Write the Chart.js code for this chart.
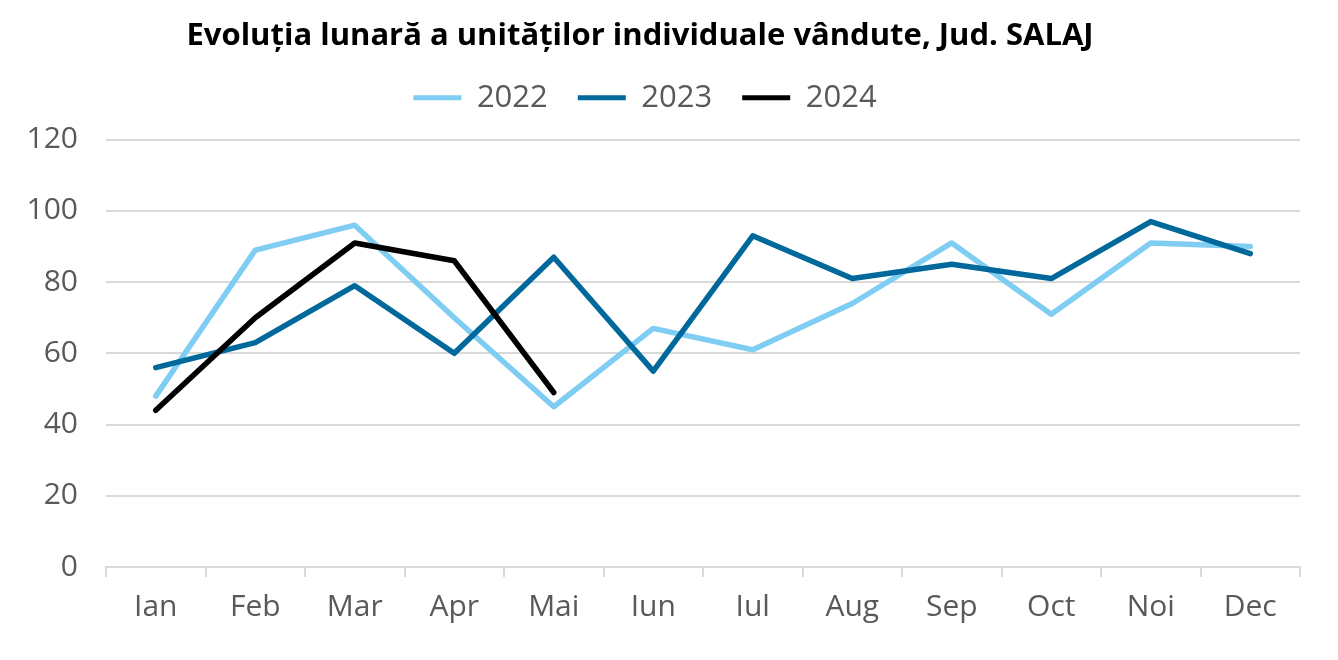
<!DOCTYPE html>
<html>
<head>
<meta charset="utf-8">
<script src="https://cdn.jsdelivr.net/npm/chart.js@4/dist/chart.umd.min.js"></script>
<style>
html,body{margin:0;padding:0;background:#fff;}
#wrap{width:1338px;height:660px;}
</style>
</head>
<body>
<div id="wrap"><canvas id="c" width="1338" height="660"></canvas></div>
<script>
const chartTitle = 'Evoluția lunară a unităților individuale vândute, Jud. SALAJ';
const months = ['Ian','Feb','Mar','Apr','Mai','Iun','Iul','Aug','Sep','Oct','Noi','Dec'];
const seriesNames = ['2022','2023','2024'];
const values2022 = [48, 89, 96, 70, 45, 67, 61, 74, 91, 71, 91, 90];
const values2023 = [56, 63, 79, 60, 87, 55, 93, 81, 85, 81, 97, 88];
const values2024 = [44, 70, 91, 86, 49];
const yTicks = [0, 20, 40, 60, 80, 100, 120];

const colors = ['#7FCDF2', '#00689A', '#000000'];
const txt = '#595959';
const FONT = "'Open Sans', 'DejaVu Sans', sans-serif";

const shiftPlugin = {
  id: 'shift',
  afterLayout(chart) {
    if (chart.titleBlock) { chart.titleBlock.left -= 10; chart.titleBlock.right -= 10; }
    if (chart.legend) {
      chart.legend.left -= 5; chart.legend.right -= 5;
      chart.legend.top -= 16.5; chart.legend.bottom -= 16.5;
    }
  }
};

new Chart(document.getElementById('c'), {
  type: 'line',
  data: {
    labels: months,
    datasets: [values2022, values2023, values2024].map((v, i) => ({
      label: seriesNames[i],
      data: v,
      borderColor: colors[i],
      backgroundColor: colors[i],
      borderWidth: 5.5,
      pointRadius: 0,
      pointHoverRadius: 0,
      tension: 0,
      borderCapStyle: 'round',
      borderJoinStyle: 'round',
      fill: false,
      order: 3 - i
    }))
  },
  options: {
    responsive: false,
    animation: false,
    devicePixelRatio: 1,
    layout: { padding: { left: 0, right: 38, top: 0, bottom: 0 } },
    plugins: {
      tooltip: { enabled: false },
      title: {
        display: true,
        text: chartTitle,
        color: '#000000',
        font: { family: FONT, size: 31, weight: 'bold' },
        padding: { top: 18, bottom: 13.5 }
      },
      legend: {
        display: true,
        position: 'top',
        labels: {
          sort: (a, b) => a.datasetIndex - b.datasetIndex,
          color: txt,
          font: { family: FONT, size: 31 },
          boxWidth: 48,
          boxHeight: 5,
          useBorderRadius: true,
          borderRadius: 2.5,
          padding: 30,
          generateLabels(chart) {
            return chart.data.datasets.map((d, i) => ({
              text: d.label,
              fillStyle: d.borderColor,
              strokeStyle: d.borderColor,
              lineWidth: 0,
              fontColor: txt,
              datasetIndex: i,
              hidden: false
            }));
          }
        }
      }
    },
    scales: {
      x: {
        type: 'category',
        offset: true,
        grid: { display: true, drawOnChartArea: false, drawTicks: true, tickLength: 10, color: '#D9D9D9', lineWidth: 2, offset: true },
        border: { display: true, color: '#D9D9D9', width: 2 },
        ticks: { color: txt, font: { family: FONT, size: 30 }, padding: 12, maxRotation: 0, autoSkip: false },
        afterFit(s) { s.height = 93; }
      },
      y: {
        min: 0,
        max: 120,
        afterBuildTicks(s) { s.ticks = yTicks.map(v => ({ value: v })); },
        grid: { color: '#D9D9D9', lineWidth: 2, drawTicks: false },
        border: { display: false },
        ticks: { color: txt, font: { family: FONT, size: 30 }, padding: 28 },
        afterFit(s) { s.width = 106; }
      }
    }
  },
  plugins: [shiftPlugin]
});
</script>
</body>
</html>
